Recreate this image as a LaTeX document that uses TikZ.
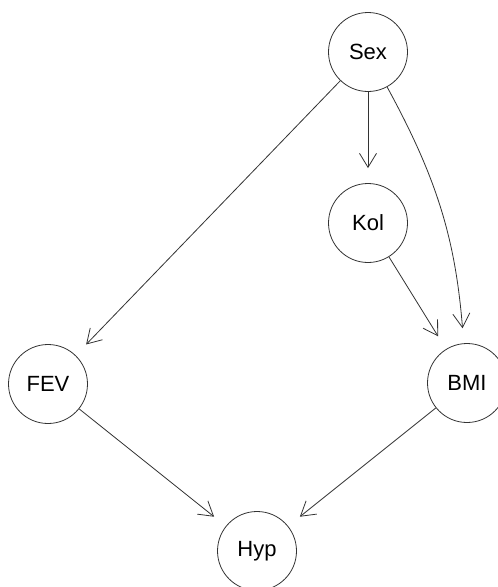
\documentclass[tikz,border=0pt]{standalone}
\usepackage{fontspec}
\setmainfont{Liberation Sans}
\usetikzlibrary{arrows.meta}
\begin{document}
\begin{tikzpicture}[x=1pt,y=-1pt,
  var/.style={circle,draw=black!80,line width=0.8pt,minimum size=79pt,inner sep=0pt,
    font=\fontsize{22}{24}\selectfont},
  edge/.style={draw=black!80,line width=0.8pt,
    -{Straight Barb[length=14pt,width=17pt,line width=0.8pt]},shorten >=15pt}]
\useasboundingbox (0,0) rectangle (498,587);
\fill[white] (0,0) rectangle (498,587);
% variables
\node[var] (sex) at (368,52)  {Sex};
\node[var] (kol) at (368,223) {Kol};
\node[var] (fev) at (48,384)  {FEV};
\node[var] (bmi) at (467,383) {BMI};
\node[var] (hyp) at (257,551) {Hyp};
% dependencies
\draw[edge] (sex) -- (fev);
\draw[edge] (sex) -- (kol);
\draw[edge] (sex) to[bend left=12] (bmi);
\draw[edge] (kol) -- (bmi);
\draw[edge] (fev) -- (hyp);
\draw[edge] (bmi) -- (hyp);
\end{tikzpicture}
\end{document}
